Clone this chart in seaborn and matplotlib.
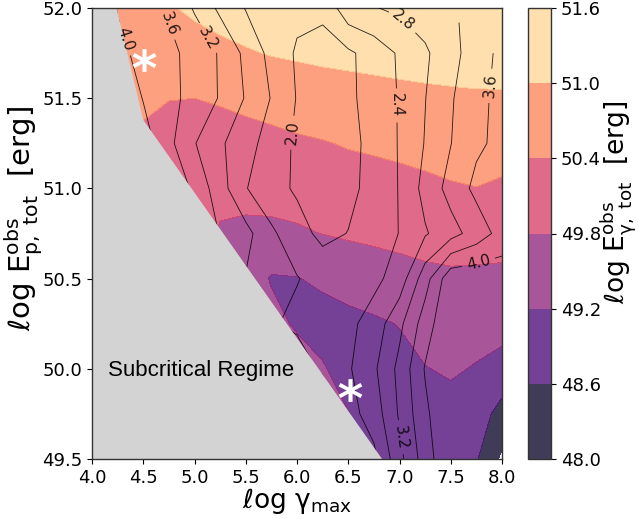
import numpy as np
import matplotlib
matplotlib.use("Agg")
import matplotlib.pyplot as plt
from matplotlib.patches import Polygon
from matplotlib.textpath import TextPath
from matplotlib.font_manager import FontProperties
from matplotlib.path import Path
import seaborn as sns

# ---------------- data ----------------
gamma_max = [4.0, 4.25, 4.5, 4.75, 5.0, 5.25, 5.5, 5.75, 6.0, 6.25, 6.5, 6.75, 7.0, 7.25, 7.5, 7.75, 8.0]
e_p_tot = [49.5, 49.75, 50.0, 50.25, 50.5, 50.75, 51.0, 51.25, 51.5, 51.75, 52.0]

# log E_gamma,tot (filled field), one row per e_p_tot value
e_gamma_rows = [
    [50.0, 50.0, 50.0, 50.0, 50.0, 50.0, 49.9, 49.8, 49.7, 49.6, 49.3, 48.8, 48.75, 48.8, 48.85, 48.65, 47.9],
    [50.0, 50.0, 50.0, 50.0, 50.0, 49.9, 49.8, 49.7, 49.6, 49.5, 49.22, 48.95, 48.9, 49.0, 49.0, 48.9, 48.38],
    [50.1, 50.1, 50.1, 50.1, 50.05, 50.0, 49.9, 49.7, 49.5, 49.25, 48.95, 49.05, 49.05, 49.18, 49.27, 49.16, 49.0],
    [50.2, 50.2, 50.2, 50.2, 50.1, 50.0, 49.9, 49.4, 49.12, 48.98, 49.05, 49.12, 49.22, 49.43, 49.5, 49.43, 49.4],
    [50.3, 50.3, 50.3, 50.3, 50.2, 50.1, 49.6, 49.15, 49.18, 49.3, 49.42, 49.53, 49.61, 49.69, 49.72, 49.70, 49.69],
    [50.4, 50.4, 50.4, 50.4, 50.1, 49.75, 49.68, 49.68, 49.73, 49.81, 49.87, 49.91, 49.95, 49.98, 50.01, 50.03, 50.0],
    [50.5, 50.5, 50.45, 50.3, 50.05, 49.93, 49.97, 50.0, 50.04, 50.09, 50.15, 50.19, 50.23, 50.28, 50.35, 50.39, 50.32],
    [50.6, 50.6, 50.3, 50.25, 50.2, 50.18, 50.22, 50.26, 50.32, 50.37, 50.44, 50.48, 50.53, 50.59, 50.64, 50.67, 50.63],
    [50.6, 50.6, 50.5, 50.41, 50.4, 50.45, 50.52, 50.6, 50.69, 50.75, 50.8, 50.83, 50.87, 50.9, 50.92, 50.94, 50.94],
    [50.7, 50.7, 50.7, 50.68, 50.75, 50.84, 50.95, 51.03, 51.07, 51.11, 51.13, 51.16, 51.18, 51.2, 51.22, 51.23, 51.24],
    [50.8, 50.8, 50.85, 50.95, 51.1, 51.24, 51.3, 51.35, 51.37, 51.41, 51.43, 51.46, 51.48, 51.5, 51.52, 51.53, 51.54],
]

# line-contour quantity, one row per e_p_tot value (nan = no data)
ratio_rows = [
    [5.0, 5.0, 5.0, 5.0, 5.0, 4.9, 4.7, 4.3, 3.6, 3.0, 2.3, 2.3, 3.08, 3.8, 4.38, 4.3, 4.3],
    [5.0, 5.0, 5.0, 5.0, 4.9, 4.8, 4.6, 4.3, 3.8, 3.0, 2.25, 2.58, 3.25, 3.92, 4.38, 4.3, 4.3],
    [5.0, 5.0, 5.0, 4.9, 4.8, 4.6, 4.3, 3.8, 2.7, 2.3, 2.35, 2.73, 3.31, 4.03, 4.35, 4.35, 4.3],
    [5.0, 5.0, 4.9, 4.8, 4.6, 4.3, 3.4, 2.45, 2.3, 2.25, 2.3, 2.57, 3.1, 3.8, 4.38, 4.35, 4.3],
    [5.0, 5.0, 4.9, 4.8, 4.6, 4.3, 2.78, 2.65, 2.42, 2.25, 2.2, 2.3, 2.57, 3.43, 4.28, 4.3, 4.25],
    [5.0, 4.9, 4.7, 4.4, 4.0, 3.15, 2.93, 2.47, 2.15, 1.9, 2.01, 2.21, 2.41, 2.76, 3.05, 3.38, 3.75],
    [5.0, 4.8, 4.5, 4.0, 3.5, 2.97, 2.42, 2.13, 1.95, 1.85, 1.9, 2.13, 2.42, 2.93, 3.34, 3.7, 3.8],
    [5.0, 4.7, 4.2, 3.7, 3.22, 2.86, 2.55, 2.23, 1.93, 1.85, 1.9, 2.1, 2.43, 2.82, 3.19, 3.53, 3.7],
    [5.0, 4.4, 3.98, 3.72, 3.46, 3.17, 2.77, 2.38, 1.98, 1.88, 1.93, 2.14, 2.43, 2.79, 3.16, 3.48, 3.72],
    [4.8, 4.09, 3.9, 3.7, 3.46, 3.16, 2.7, 2.28, 1.95, 1.9, 1.93, 2.17, 2.45, 2.74, 3.06, 3.41, 3.7],
    [4.4, 3.98, 3.78, 3.55, 3.16, 2.71, 2.38, 2.22, 2.1, 2.06, 2.67, 2.78, 2.88, 3.0, 3.1, np.nan, np.nan],
]

fill_levels = [48.0, 48.6, 49.2, 49.8, 50.4, 51.0, 51.6]
fill_tick_labels = ["48.0", "48.6", "49.2", "49.8", "50.4", "51.0", "51.6"]
line_levels = [2.0, 2.4, 2.8, 3.2, 3.6, 4.0]

subcrit_x = [4.0, 4.24, 4.5, 6.83, 4.0]
subcrit_y = [52.0, 52.0, 51.38, 49.5, 49.5]

star_x = [4.51, 6.52]
star_y = [51.71, 49.88]

x_ticks = [4.0, 4.5, 5.0, 5.5, 6.0, 6.5, 7.0, 7.5, 8.0]
x_tick_labels = ["4.0", "4.5", "5.0", "5.5", "6.0", "6.5", "7.0", "7.5", "8.0"]
y_ticks = [49.5, 50.0, 50.5, 51.0, 51.5, 52.0]
y_tick_labels = ["49.5", "50.0", "50.5", "51.0", "51.5", "52.0"]

# ---------------- style ----------------
sns.set_style("ticks")
plt.rcParams["font.family"] = ["DejaVu Sans"]
plt.rcParams["mathtext.fontset"] = "dejavusans"
for k in ["text.color", "axes.labelcolor", "xtick.color", "ytick.color"]:
    plt.rcParams[k] = "black"
plt.rcParams["axes.edgecolor"] = "0.2"
plt.rcParams["axes.linewidth"] = 1.0

W, H = 638, 519
fig = plt.figure(figsize=(W / 100, H / 100), dpi=100)
ax = fig.add_axes([92 / W, 1 - 459 / H, 410 / W, 451 / H])
cax = fig.add_axes([528 / W, 1 - 459 / H, 23 / W, 451 / H])

cmap = sns.color_palette("magma", as_cmap=True)
X, Y = np.meshgrid(gamma_max, e_p_tot)

cf = ax.contourf(X, Y, np.array(e_gamma_rows), levels=fill_levels, cmap=cmap,
                 alpha=0.8, zorder=1)

ax.fill(subcrit_x, subcrit_y, color="#d3d3d3", lw=0, zorder=2)

cs = ax.contour(X, Y, np.array(ratio_rows, dtype=float), levels=line_levels,
                colors="k", linewidths=0.6, alpha=0.85, zorder=3)
visible = Polygon([(subcrit_x[1], 52.0), (8.0, 52.0), (8.0, 49.5),
                   (subcrit_x[3], 49.5), (subcrit_x[2], subcrit_y[2])],
                  closed=True, transform=ax.transData)
cs.set_clip_path(visible)

label_pos = [(4.34, 51.83), (4.78, 51.92), (5.12, 51.83), (5.93, 51.31),
             (7.02, 51.92), (6.99, 51.46), (7.85, 51.57), (7.77, 50.59),
             (7.0, 49.62)]
ax.clabel(cs, manual=label_pos, inline=True, fmt="%.1f", fontsize=11)

ax.text(4.16, 49.99, "Subcritical Regime", fontsize=16, family="Liberation Sans",
        ha="left", va="center", color="black", zorder=5)

# centred bold asterisk marker
tp = TextPath((0, 0), "*", size=1, prop=FontProperties(family="DejaVu Sans", weight="bold"))
ext = tp.get_extents()
verts = tp.vertices - np.array([(ext.x0 + ext.x1) / 2, (ext.y0 + ext.y1) / 2])
verts[tp.codes == Path.CLOSEPOLY] = 0.0
star_path = Path(verts, tp.codes)
ax.scatter(star_x, star_y, marker=star_path, s=290, color="white", lw=0, zorder=6)

ax.set_xlim(4.0, 8.0)
ax.set_ylim(49.5, 52.0)
ax.set_xticks(x_ticks)
ax.set_xticklabels(x_tick_labels)
ax.set_yticks(y_ticks)
ax.set_yticklabels(y_tick_labels)
ax.tick_params(labelsize=13)
ax.set_xlabel(r"$\ell$og γ$_{\rm max}$", fontsize=19)
ax.xaxis.set_label_coords(0.5, -0.06)
ax.set_ylabel(r"$\ell$og E$^{\rm obs}_{\rm p,\ tot}$  [erg]", fontsize=21)
ax.yaxis.set_label_coords(-0.115, 0.533)

cbar = fig.colorbar(cf, cax=cax)
cbar.set_ticks(fill_levels)
cbar.set_ticklabels(fill_tick_labels)
cbar.ax.tick_params(labelsize=13)
cbar.outline.set_edgecolor("0.2")
cbar.set_label(r"$\ell$og E$^{\rm obs}_{\rm γ,\ tot}$  [erg]", fontsize=19)
cbar.ax.yaxis.set_label_coords(3.06, 0.57)

fig.savefig("out.png", dpi=100)
